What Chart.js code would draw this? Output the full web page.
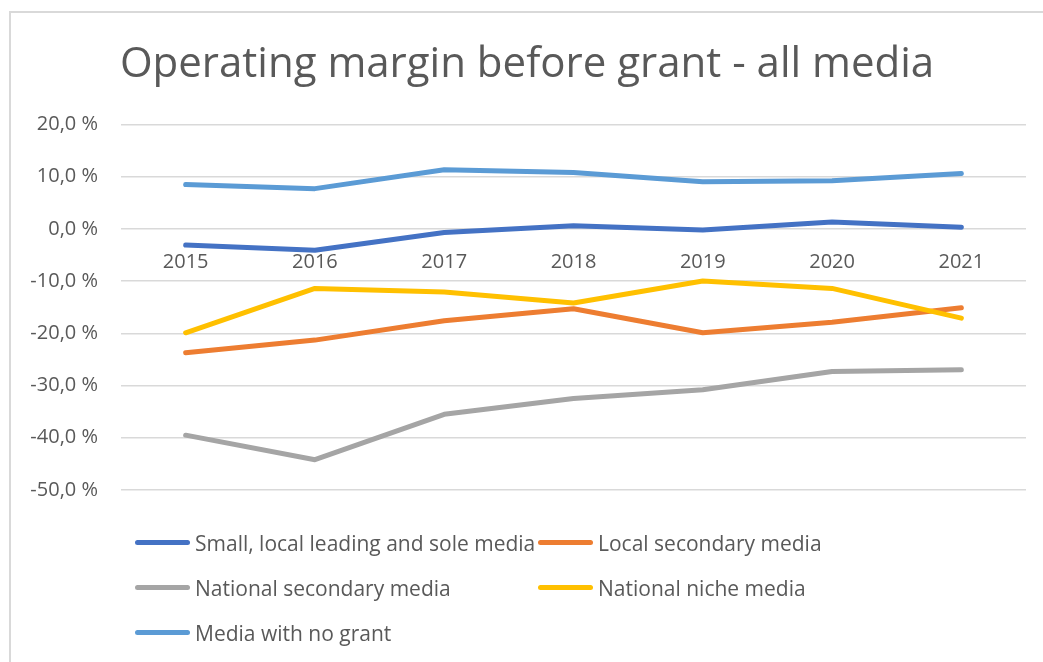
<!DOCTYPE html>
<html>
<head>
<meta charset="utf-8">
<script src="https://cdn.jsdelivr.net/npm/chart.js@4.4.1/dist/chart.umd.min.js"></script>
<style>
  body { margin: 0; background: #fff; width: 1043px; height: 662px; overflow: hidden; position: relative; }
  #frame { position: absolute; left: 9px; top: 11px; width: 1100px; height: 700px;
           border-left: 2px solid #d9d9d9; border-top: 2px solid #d9d9d9; }
  #wrap { position: absolute; left: 0; top: 0; width: 1043px; height: 525px; }
  #legend { position: absolute; left: 135px; top: 520px; width: 850px;
            display: grid; grid-template-columns: 403px 420px;
            font-family: "Open Sans", sans-serif; font-size: 21px; color: #595959; }
  .item { display: flex; align-items: center; height: 45px; white-space: nowrap; }
  .swatch { width: 55px; height: 5px; border-radius: 3px; margin-right: 5px; flex: none; }
</style>
</head>
<body>
<div id="frame"></div>
<div id="wrap"><canvas id="marginChart"></canvas></div>
<div id="legend"></div>
<script>
const years = ['2015', '2016', '2017', '2018', '2019', '2020', '2021'];

const smallLocal = [-3.1, -4.1, -0.7, 0.6, -0.2, 1.3, 0.3];
const localSecondary = [-23.7, -21.3, -17.6, -15.3, -19.9, -17.9, -15.1];
const nationalSecondary = [-39.5, -44.2, -35.5, -32.5, -30.8, -27.3, -27.0];
const nationalNiche = [-19.9, -11.4, -12.1, -14.2, -10.0, -11.4, -17.1];
const noGrant = [8.5, 7.7, 11.3, 10.8, 9.0, 9.2, 10.6];

const seriesNames = ['Small, local leading and sole media', 'Local secondary media',
  'National secondary media', 'National niche media', 'Media with no grant'];
const seriesColors = ['#4472C4', '#ED7D31', '#A5A5A5', '#FFC000', '#5B9BD5'];

const yTicks = { min: -50, max: 20, step: 10 };

const textColor = '#595959';
const values = [smallLocal, localSecondary, nationalSecondary, nationalNiche, noGrant];

const datasets = values.map(function (v, i) {
  return {
    label: seriesNames[i],
    data: v,
    borderColor: seriesColors[i],
    backgroundColor: seriesColors[i],
    borderWidth: 5,
    pointRadius: 0,
    borderCapStyle: 'round',
    borderJoinStyle: 'round',
    tension: 0,
    order: values.length - i
  };
});

const ctx = document.getElementById('marginChart');
new Chart(ctx, {
  type: 'line',
  data: { labels: years, datasets: datasets },
  options: {
    responsive: true,
    maintainAspectRatio: false,
    animation: false,
    layout: { padding: { left: 28, right: 17, top: 0, bottom: 10 } },
    scales: {
      x: {
        position: { y: 0 },
        offset: true,
        grid: { display: false, drawTicks: false, offset: true },
        border: { display: false },
        ticks: { color: textColor, padding: 21, maxRotation: 0,
                 font: { family: 'Open Sans', size: 20 } }
      },
      y: {
        min: yTicks.min,
        max: yTicks.max,
        afterFit: function (scale) { scale.width = 93; },
        grid: { color: '#d9d9d9', lineWidth: 1.5, drawTicks: false },
        border: { display: false },
        ticks: {
          stepSize: yTicks.step,
          padding: 23,
          color: textColor,
          font: { family: 'Open Sans', size: 20 },
          callback: function (v) { return v.toFixed(1).replace('.', ',') + ' %'; }
        }
      }
    },
    plugins: {
      legend: { display: false },
      tooltip: { enabled: false },
      title: {
        display: true,
        text: 'Operating margin before grant - all media',
        color: textColor,
        font: { family: 'Open Sans', size: 42, weight: 'normal' },
        padding: { top: 40, bottom: 34 }
      }
    }
  }
});

const legendEl = document.getElementById('legend');
seriesNames.forEach(function (name, i) {
  const item = document.createElement('div');
  item.className = 'item';
  const sw = document.createElement('span');
  sw.className = 'swatch';
  sw.style.background = seriesColors[i];
  const label = document.createElement('span');
  label.textContent = name;
  item.appendChild(sw);
  item.appendChild(label);
  legendEl.appendChild(item);
});
</script>
</body>
</html>
